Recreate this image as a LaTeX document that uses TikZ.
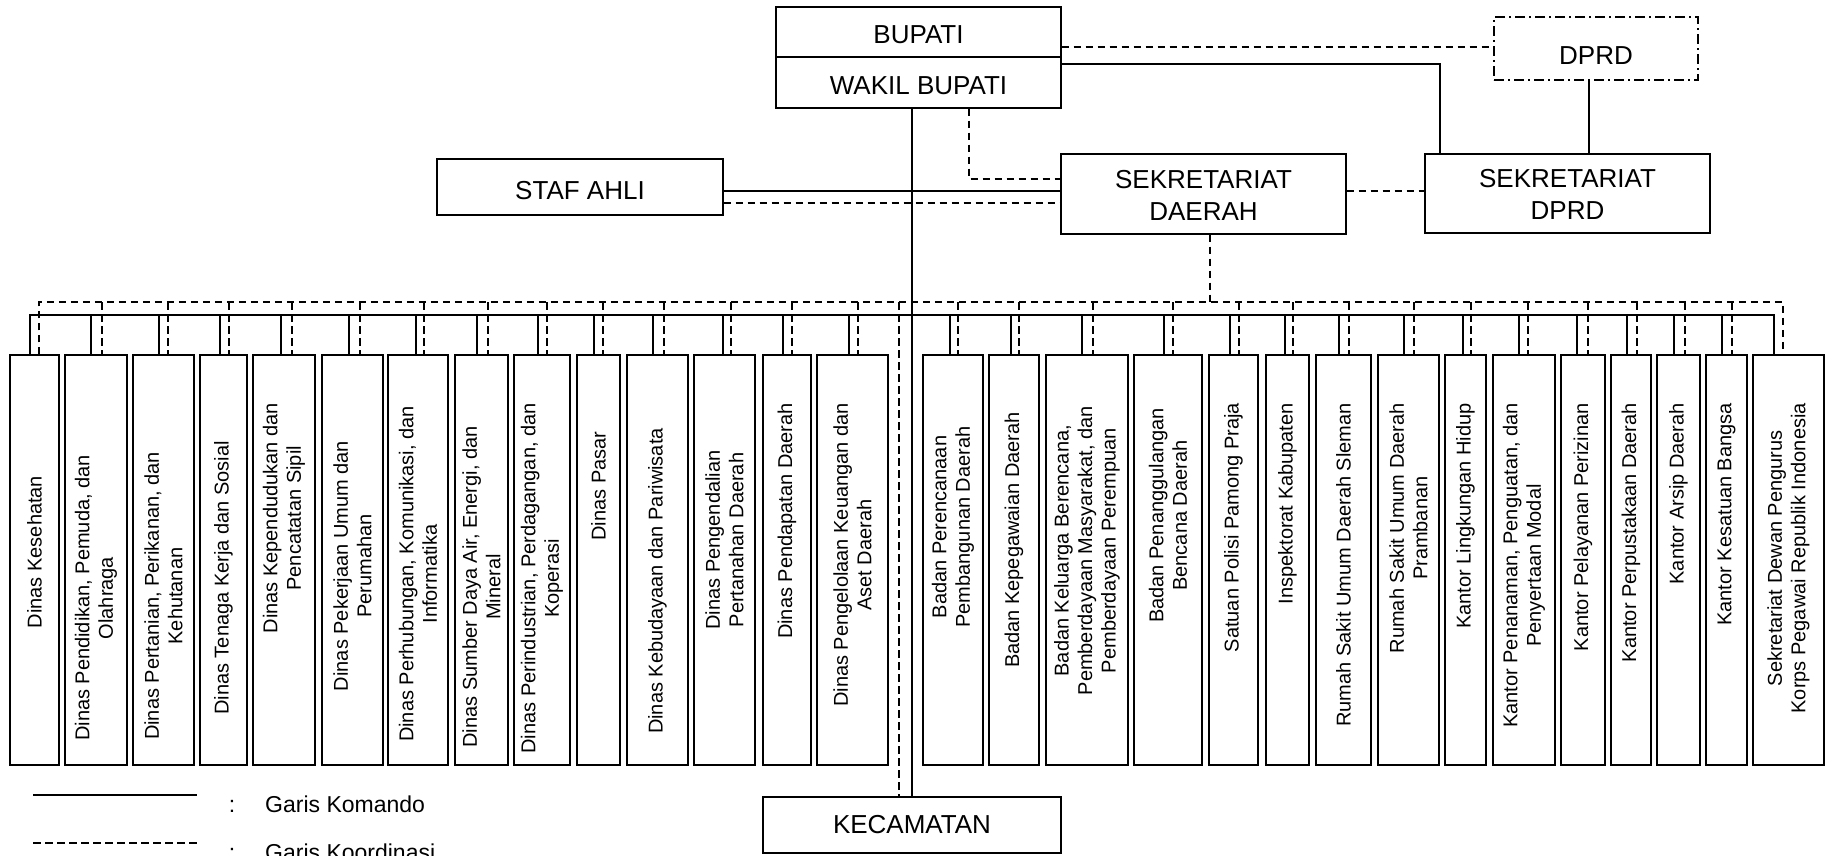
\documentclass[tikz,border=0pt]{standalone}
\usepackage{fontspec}
\setmainfont{Liberation Sans}
\usetikzlibrary{fit}

% one organisational unit in the lower row:
% #1 name, #2 left, #3 right, #4 x of command drop, #5 x of coordination drop,
% #6 text anchor, #7 y of that anchor, #8 text
\newcommand\orgunit[8]{%
  \node[unitbox, fit={(#2,355) (#3,765)}] (#1) {};
  \coordinate (#1-c) at (#4,315);
  \coordinate (#1-d) at (#5,302);
  \node[unittext, anchor=#6] (#1-t) at ({(#2+#3)/2},#7) {#8};
}

\begin{document}
\begin{tikzpicture}[x=1pt, y=-1pt,
  box/.style={draw, line width=1.3pt, inner sep=0pt},
  dprdbox/.style={draw, line width=1.3pt, inner sep=0pt,
    dash pattern=on 10pt off 4pt on 2pt off 4pt},
  unitbox/.style={draw, line width=1.5pt, inner sep=0pt},
  toplabel/.style={font=\fontsize{26}{32}\selectfont, align=center, inner sep=0pt},
  unittext/.style={font=\fontsize{20}{23.5}\selectfont, align=center, rotate=90, inner sep=0pt},
  legendtext/.style={font=\fontsize{23}{28}\selectfont, inner sep=0pt},
  cmd/.style={line width=1.1pt},
  crd/.style={line width=1.1pt, dash pattern=on 7.5pt off 4.5pt},
]
\useasboundingbox (0,0) rectangle (1832,856);

% ---- top level ----
\node[box, fit={(776,7) (1061,57)}] (bupati) {};
\node[box, fit={(776,57) (1061,108)}] (wakil) {};
\node[toplabel] (bupati-t) at ([yshift=-3pt]bupati.center) {BUPATI};
\node[toplabel] (wakil-t) at ([yshift=-3pt]wakil.center) {WAKIL BUPATI};

\node[dprdbox, fit={(1494,17) (1698,80)}] (dprd) {};
\node[toplabel] (dprd-t) at ([yshift=-7pt]dprd.center) {DPRD};

\node[box, fit={(437,159) (723,215)}] (staf) {};
\node[toplabel] (staf-t) at ([yshift=-4pt]staf.center) {STAF AHLI};

\node[box, fit={(1061,154) (1346,234)}] (sekda) {};
\node[toplabel] (sekda-t) at ([yshift=-1pt]sekda.center) {SEKRETARIAT\\DAERAH};

\node[box, fit={(1425,154) (1710,233)}] (setdprd) {};
\node[toplabel] (setdprd-t) at ([yshift=-1pt]setdprd.center) {SEKRETARIAT\\DPRD};

\node[box, fit={(763,797) (1061,853)}] (kec) {};
\node[toplabel] (kec-t) at (kec.center) {KECAMATAN};

% ---- lower row of units ----
\orgunit{u1}{10}{59}{30}{39}{center}{552}{Dinas Kesehatan}
\orgunit{u2}{65}{127}{91}{102}{center}{598}{Dinas Pendidikan, Pemuda, dan\\Olahraga}
\orgunit{u3}{133}{194}{159}{168}{center}{596}{Dinas Pertanian, Perikanan, dan\\Kehutanan}
\orgunit{u4}{200}{247}{220}{229}{center}{578}{Dinas Tenaga Kerja dan Sosial}
\orgunit{u5}{253}{315}{281}{292}{east}{403}{Dinas Kependudukan dan\\Pencatatan Sipil}
\orgunit{u6}{322}{383}{349}{360}{center}{566}{Dinas Pekerjaan Umum dan\\Perumahan}
\orgunit{u7}{388}{448}{416}{424}{east}{406}{Dinas Perhubungan, Komunikasi, dan\\Informatika}
\orgunit{u8}{455}{508}{477}{488}{center}{587}{Dinas Sumber Daya Air, Energi, dan\\Mineral}
\orgunit{u9}{514}{570}{538}{547}{east}{403}{Dinas Perindustrian, Perdagangan, dan\\Koperasi}
\orgunit{u10}{577}{620}{594}{603}{center}{486}{Dinas Pasar}
\orgunit{u11}{627}{688}{653}{664}{center}{581}{Dinas Kebudayaan dan Pariwisata}
\orgunit{u12}{694}{755}{723}{731}{center}{540}{Dinas Pengendalian\\Pertanahan Daerah}
\orgunit{u13}{763}{811}{783}{792}{east}{403}{Dinas Pendapatan Daerah}
\orgunit{u14}{817}{888}{849}{858}{east}{403}{Dinas Pengelolaan Keuangan dan\\Aset Daerah}
\orgunit{u15}{923}{983}{950}{958}{center}{527}{Badan Perencanaan\\Pembangunan Daerah}
\orgunit{u16}{989}{1039}{1011}{1019}{east}{412}{Badan Kepegawaian Daerah}
\orgunit{u17}{1046}{1128}{1082}{1093}{east}{406}{Badan Keluarga Berencana,\\Pemberdayaan Masyarakat, dan\\Pemberdayaan Perempuan}
\orgunit{u18}{1134}{1202}{1164}{1173}{east}{408}{Badan Penanggulangan\\Bencana Daerah}
\orgunit{u19}{1209}{1258}{1230}{1239}{east}{403}{Satuan Polisi Pamong Praja}
\orgunit{u20}{1266}{1309}{1285}{1293}{east}{403}{Inspektorat Kabupaten}
\orgunit{u21}{1316}{1371}{1339}{1349}{east}{403}{Rumah Sakit Umum Daerah Sleman}
\orgunit{u22}{1378}{1439}{1404}{1414}{east}{403}{Rumah Sakit Umum Daerah\\Prambanan}
\orgunit{u23}{1445}{1486}{1463}{1471}{east}{403}{Kantor Lingkungan Hidup}
\orgunit{u24}{1493}{1555}{1519}{1528}{east}{403}{Kantor Penanaman, Penguatan, dan\\Penyertaan Modal}
\orgunit{u25}{1561}{1605}{1577}{1588}{east}{403}{Kantor Pelayanan Perizinan}
\orgunit{u26}{1611}{1651}{1627}{1637}{east}{403}{Kantor Perpustakaan Daerah}
\orgunit{u27}{1657}{1700}{1674}{1685}{east}{403}{Kantor Arsip Daerah}
\orgunit{u28}{1706}{1747}{1722}{1732}{east}{403}{Kantor Kesatuan Bangsa}
\orgunit{u29}{1753}{1824}{1774}{1783}{east}{403}{Sekretariat Dewan Pengurus\\Korps Pegawai Republik Indonesia}

% ---- helper points for the connectors ----
\coordinate (spine) at (912,108);
\coordinate (kecd) at (899,302);
\coordinate (sdd) at (1210,302);
\coordinate (h47) at (0,47);
\coordinate (h64) at (0,64);
\coordinate (h179) at (0,179);
\coordinate (h191) at (0,191);
\coordinate (h203) at (0,203);
\coordinate (v969) at (969,0);
\coordinate (v1440) at (1440,0);
\coordinate (v1589) at (1589,0);

% ---- command lines ----
\draw[cmd] (spine) -- (spine |- kec.north);
\draw[cmd] (staf.east |- h191) -- (sekda.west |- h191);
\draw[cmd] (bupati.east |- h64) -- (v1440 |- h64) -- (v1440 |- setdprd.north);
\draw[cmd] (v1589 |- dprd.south) -- (v1589 |- setdprd.north);
\draw[cmd] (u1-c |- u1.north) -- (u1-c) -- (u29-c) -- (u29-c |- u29.north);
\foreach \i in {2,...,28} {
  \draw[cmd] (u\i-c) -- (u\i-c |- u\i.north);
}

% ---- coordination lines ----
\draw[crd] (bupati.east |- h47) -- (dprd.west |- h47);
\draw[crd] (v969 |- wakil.south) -- (v969 |- h179) -- (sekda.west |- h179);
\draw[crd] (staf.east |- h203) -- (sekda.west |- h203);
\draw[crd] (sekda.east |- h191) -- (setdprd.west |- h191);
\draw[crd] (sdd |- sekda.south) -- (sdd);
\draw[crd] (u1-d |- u1.north) -- (u1-d) -- (u29-d) -- (u29-d |- u29.north);
\foreach \i in {2,...,28} {
  \draw[crd] (u\i-d) -- (u\i-d |- u\i.north);
}
\draw[crd] (kecd) -- (kecd |- kec.north);

% ---- legend ----
\coordinate (lk1) at (33,795);
\coordinate (lk2) at (197,795);
\coordinate (lc1) at (33,843);
\coordinate (lc2) at (197,843);
\draw[cmd] (lk1) -- (lk2);
\draw[crd] (lc1) -- (lc2);
\node[legendtext, anchor=base] (lkcolon) at (232,812) {:};
\node[legendtext, anchor=base west] (lktext) at (265,812) {Garis Komando};
\node[legendtext, anchor=base] (lccolon) at (232,860) {:};
\node[legendtext, anchor=base west] (lctext) at (265,860) {Garis Koordinasi};
\end{tikzpicture}
\end{document}
